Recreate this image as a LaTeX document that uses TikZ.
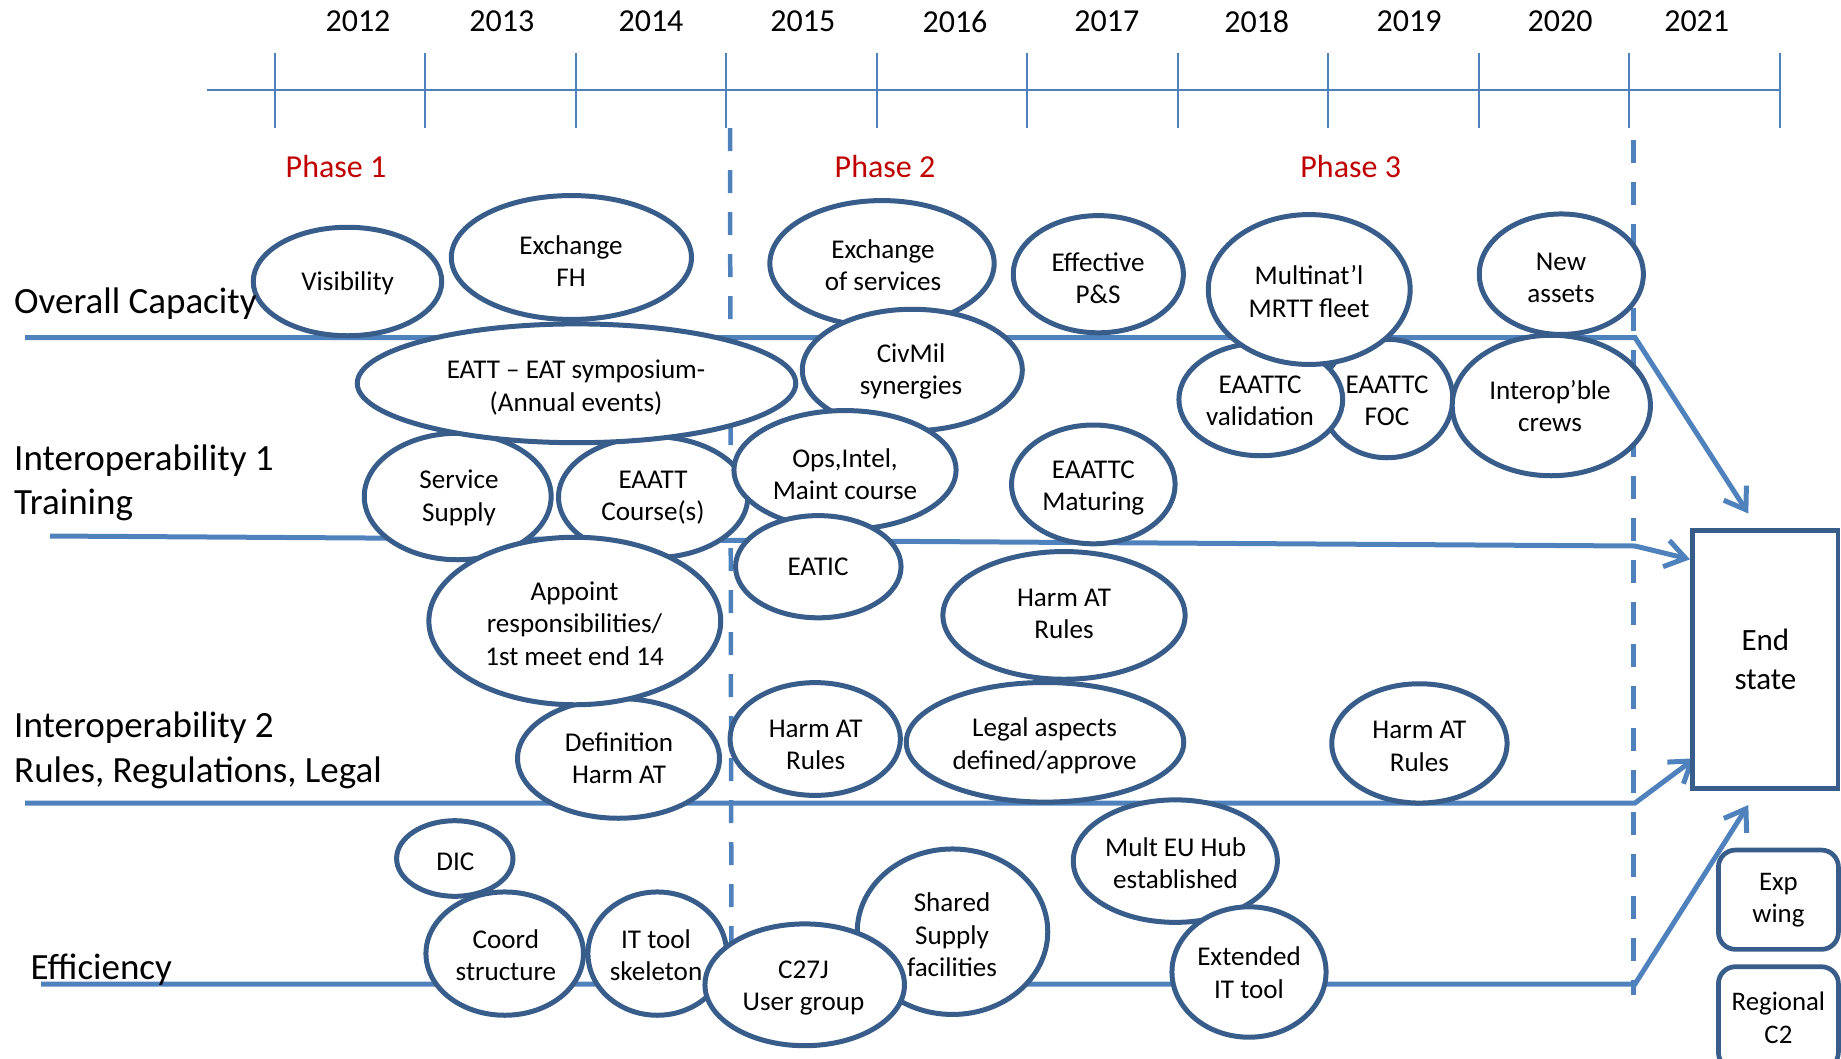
\documentclass[tikz,border=0pt]{standalone}
\usepackage{fontspec}
\setmainfont{Carlito}
\usetikzlibrary{shapes.geometric,arrows.meta}
\definecolor{laneblue}{HTML}{4F81BD}
\definecolor{edgeblue}{HTML}{385D8A}
\definecolor{phasered}{HTML}{C00000}
\begin{document}
\begin{tikzpicture}[x=1pt,y=-1pt,
  ell/.style={ellipse, draw=edgeblue, line width=5pt, fill=white, inner sep=0pt},
  etext/.style={align=center, font=\fontsize{27.1}{32.5}\selectfont, inner sep=0pt},
  yearlbl/.style={font=\fontsize{32}{37}\selectfont, inner sep=0pt},
  phaselbl/.style={font=\fontsize{32}{37}\selectfont, text=phasered, inner sep=0pt},
  lanelbl/.style={font=\fontsize{37}{44.5}\selectfont, align=left, anchor=west, inner sep=0pt},
  lane/.style={draw=laneblue, line width=5pt},
  lanearrow/.style={lane, line join=miter, -{Straight Barb[length=20pt,width=27pt]}},
  axisline/.style={draw=laneblue, line width=2.5pt},
  tickline/.style={draw=laneblue, line width=2pt},
  dashline/.style={draw=laneblue, line width=4.5pt, dash pattern=on 23pt off 19pt},
  box/.style={rectangle, draw=edgeblue, line width=4.7pt, fill=white, inner sep=0pt, align=center},
]
\useasboundingbox (0,0) rectangle (1841,1058);

% ---- timeline ----
\draw[axisline] (207,90) -- (1779.6,90);
\foreach \k in {0,...,10}{
  \draw[tickline] ({274.6+150.5*\k},53) -- ({274.6+150.5*\k},128);
}
\node[yearlbl] (y2012) at (358,21.7) {2012};
\node[yearlbl] (y2013) at (501.8,21.7) {2013};
\node[yearlbl] (y2014) at (651,21.7) {2014};
\node[yearlbl] (y2015) at (802.8,21.7) {2015};
\node[yearlbl] (y2016) at (955,21.7) {2016};
\node[yearlbl] (y2017) at (1106.8,21.7) {2017};
\node[yearlbl] (y2018) at (1256.7,21.7) {2018};
\node[yearlbl] (y2019) at (1409,21.7) {2019};
\node[yearlbl] (y2020) at (1560,21.7) {2020};
\node[yearlbl] (y2021) at (1696.7,21.7) {2021};

\node[phaselbl] (ph1) at (336,167) {Phase 1};
\node[phaselbl] (ph2) at (885,167) {Phase 2};
\node[phaselbl] (ph3) at (1350.7,167) {Phase 3};

% ---- phase separators ----
\draw[dashline] (730,128) -- (731.5,995);
\draw[dashline] (1633.3,140) -- (1633.3,995);

% ---- lanes ----
\coordinate (ocA) at (25,337.5);
\coordinate (ocB) at (1635,337.5);
\coordinate (ocC) at (1748.3,513.5);
\coordinate (iaA) at (50,536);
\coordinate (iaB) at (1635,546);
\coordinate (iaC) at (1690,559.3);
\coordinate (ibA) at (25,803);
\coordinate (ibB) at (1635,803);
\coordinate (ibC) at (1695,758.3);
\coordinate (efA) at (41,984);
\coordinate (efB) at (1635,984);
\coordinate (efC) at (1748.3,805);
\draw[lanearrow] (ocA) -- (ocB) -- (ocC);
\draw[lanearrow] (iaA) -- (iaB) -- (iaC);
\draw[lanearrow] (ibA) -- (ibB) -- (ibC);
\draw[lanearrow] (efA) -- (efB) -- (efC);

% ---- ellipses (stacking order) ----
\node[ell, minimum width=188.5pt, minimum height=108.5pt] (vis) at (347.5,281.5) {};
\node[ell, minimum width=240.2pt, minimum height=123.9pt] (exfh) at (571.4,257.5) {};
\node[ell, minimum width=224.3pt, minimum height=125.9pt] (exsv) at (882,263.5) {};
\node[ell, minimum width=170.1pt, minimum height=117.2pt] (effps) at (1098.3,274.2) {};
\node[ell, minimum width=164.1pt, minimum height=120.5pt] (newas) at (1561.3,274.2) {};
\node[ell, minimum width=131.5pt, minimum height=118.5pt] (foc) at (1387,398.5) {};
\node[ell, minimum width=163.8pt, minimum height=112.5pt] (valid) at (1260.8,399.5) {};
\node[ell, minimum width=201.9pt, minimum height=149.9pt] (mrtt) at (1309.2,289.5) {};
\node[ell, minimum width=198.2pt, minimum height=140.5pt] (crews) at (1551.3,405.5) {};
\node[ell, minimum width=186.9pt, minimum height=126.5pt] (servsup) at (457.7,496.5) {};
\node[ell, minimum width=189.2pt, minimum height=121.1pt] (eaatt) at (653.1,497.2) {};
\node[ell, minimum width=438.5pt, minimum height=118.8pt] (eatt) at (576.5,383.3) {};
\node[ell, minimum width=220pt, minimum height=121.5pt] (civmil) at (912.3,370) {};
\node[ell, minimum width=222.1pt, minimum height=118.9pt] (ops) at (845,470) {};
\node[ell, minimum width=165.5pt, minimum height=102.2pt] (eatic) at (818.3,566.7) {};
\node[ell, minimum width=163.5pt, minimum height=118.8pt] (matur) at (1093.3,484.4) {};
\node[ell, minimum width=242.2pt, minimum height=127.7pt] (harmA) at (1064,615.4) {};
\node[ell, minimum width=277.5pt, minimum height=119.6pt] (legal) at (1045,742.3) {};
\node[ell, minimum width=202pt, minimum height=119.7pt] (defin) at (618.5,758.4) {};
\node[ell, minimum width=291.9pt, minimum height=167.5pt] (appoint) at (574.8,621) {};
\node[ell, minimum width=170.4pt, minimum height=112.8pt] (harmB) at (815.2,739) {};
\node[ell, minimum width=175.3pt, minimum height=119.3pt] (harmC) at (1419.4,743.4) {};
\node[ell, minimum width=116.4pt, minimum height=75.6pt] (dic) at (454.8,858.5) {};
\node[ell, minimum width=190.5pt, minimum height=165.5pt] (shared) at (952.5,931.7) {};
\node[ell, minimum width=157.5pt, minimum height=123.3pt] (coord) at (504.7,953.6) {};
\node[ell, minimum width=138.7pt, minimum height=123.3pt] (ittool) at (657.3,953.6) {};
\node[ell, minimum width=199.5pt, minimum height=121.8pt] (c27j) at (804.7,984.8) {};
\node[ell, minimum width=204.1pt, minimum height=122.5pt] (multeu) at (1175.3,861.1) {};
\node[ell, minimum width=154.1pt, minimum height=130.4pt] (extit) at (1249,972) {};

% ---- ellipse texts ----
\node[etext] (visT) at (347.7,283) {Visibility};
\node[etext] (exfhT) at (571,261) {Exchange\\FH};
\node[etext] (exsvT) at (883,265) {Exchange\\of services};
\node[etext] (effpsT) at (1098,278.3) {Effective\\P\&S};
\node[etext] (mrttT) at (1309,291.7) {Multinat’l\\MRTT fleet};
\node[etext] (newasT) at (1561,278) {New\\assets};
\node[etext] (eattT) at (576,387.5) {EATT – EAT symposium-\\(Annual events)};
\node[etext] (civmilT) at (911,371.6) {CivMil\\synergies};
\node[etext] (validT) at (1260,401) {EAATTC\\validation};
\node[etext] (focT) at (1387,401) {EAATTC\\FOC};
\node[etext] (crewsT) at (1550,405.8) {Interop’ble\\crews};
\node[etext] (servsupT) at (459,498) {Service\\Supply};
\node[etext] (eaattT) at (653,497.7) {EAATT\\Course(s)};
\node[etext] (opsT) at (845,474) {Ops,Intel,\\Maint course};
\node[etext] (eaticT) at (818,567) {EATIC};
\node[etext] (maturT) at (1093.3,488) {EAATTC\\Maturing};
\node[etext] (appointT) at (574.5,623.6) {Appoint\\responsibilities/\\1st meet end 14};
\node[etext] (harmAT) at (1064,614) {Harm AT\\Rules};
\node[etext] (definT) at (619,758) {Definition\\Harm AT};
\node[etext] (harmBT) at (815.7,745) {Harm AT\\Rules};
\node[etext] (legalT) at (1044.6,745.6) {Legal aspects\\defined/approve};
\node[etext] (harmCT) at (1419.4,746.4) {Harm AT\\Rules};
\node[etext] (dicT) at (455.4,861.7) {DIC};
\node[etext] (coordT) at (505.9,955) {Coord\\structure};
\node[etext] (ittoolT) at (656,955.4) {IT tool\\skeleton};
\node[etext] (c27jT) at (803.5,988) {C27J\\User group};
\node[etext] (sharedT) at (952,935) {Shared\\Supply\\facilities};
\node[etext] (multeuT) at (1175.6,863) {Mult EU Hub\\established};
\node[etext] (extitT) at (1249,972.6) {Extended\\IT tool};

% ---- end state and side boxes ----
\node[box, minimum width=145.3pt, minimum height=257.6pt,
      font=\fontsize{31}{39.5}\selectfont] (endstate) at (1765.4,659.5) {End\\state};
\node[box, rounded corners=17pt, minimum width=120pt, minimum height=99.3pt,
      font=\fontsize{26.8}{32}\selectfont] (expwing) at (1778.4,899.7) {Exp\\wing};
\node[box, rounded corners=17pt, minimum width=120pt, minimum height=102.6pt,
      font=\fontsize{26.8}{33}\selectfont] (regc2) at (1778.4,1018) {Regional\\C2};

% ---- lane labels ----
\node[lanelbl] (lblOC) at (14,304) {Overall Capacity};
\node[lanelbl] (lblIA) at (14,483) {Interoperability 1\\Training};
\node[lanelbl] (lblIB) at (14,750.5) {Interoperability 2\\Rules, Regulations, Legal};
\node[lanelbl] (lblEF) at (30.5,969.5) {Efficiency};
\end{tikzpicture}
\end{document}
